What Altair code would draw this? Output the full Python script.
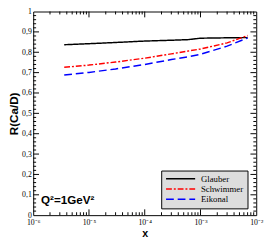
import altair as alt
import pandas as pd

# ---- data ----
x_vals = [3.6e-6, 1e-5, 3e-5, 1e-4, 3e-4, 6e-4, 1e-3, 3e-3, 7e-3]
glauber = [0.837, 0.842, 0.848, 0.855, 0.859, 0.862, 0.869, 0.871, 0.872]
schwimmer = [0.726, 0.737, 0.752, 0.771, 0.792, 0.806, 0.816, 0.846, 0.882]
eikonal = [0.688, 0.701, 0.718, 0.740, 0.764, 0.778, 0.790, 0.830, 0.870]
series = ["Glauber", "Schwimmer", "Eikonal"]
colors = ["#000000", "#ff0000", "#0000ff"]
dashes = [[1, 0], [6, 2, 2, 2], [8, 4]]

y_major = [round(i / 10, 1) for i in range(1, 10)]
y_minor = [round(i * 0.02, 2) for i in range(1, 50) if i % 5 != 0]
x_major = [1e-5, 1e-4, 1e-3]
x_minor = [k * 10.0 ** d for d in range(-6, -2) for k in range(2, 10)]
y_label_vals = [round(i / 10, 1) for i in range(0, 11)]
x_label_vals = [1e-6, 1e-5, 1e-4, 1e-3, 1e-2]

W, H = 230, 210

rows = []
for name, vals in zip(series, [glauber, schwimmer, eikonal]):
    for xv, rv in zip(x_vals, vals):
        rows.append({"x": xv, "R": rv, "series": name})
df = pd.DataFrame(rows)

xs = alt.Scale(type="log", domain=[1e-6, 1e-2], nice=False)
ys = alt.Scale(domain=[0, 1], nice=False, zero=False)

x_axis = alt.Axis(
    values=x_label_vals, ticks=False, domain=False, grid=False,
    labelExpr="'10' + (datum.value < 5e-6 ? '⁻⁶' : datum.value < 5e-5 ? '⁻⁵' : datum.value < 5e-4 ? '⁻⁴' : datum.value < 5e-3 ? '⁻³' : '⁻²')",
    labelFont="Liberation Serif", labelFontSize=8, labelColor="black",
    labelPadding=4, labelFlush=False, labelOverlap=False,
    title="x", titleFont="Liberation Sans", titleFontSize=11, titleFontWeight="bold",
    titleColor="black", titlePadding=1,
)
y_axis = alt.Axis(
    values=y_label_vals, ticks=False, domain=False, grid=False,
    labelExpr="datum.value == 0 ? '0' : datum.value == 1 ? '1' : replace(format(datum.value, '.1f'), '.', ',')",
    labelFont="Liberation Serif", labelFontSize=8, labelColor="black",
    labelPadding=2, labelFlush=False, labelOverlap=False,
    title="R(Ca/D)", titleFont="Liberation Sans", titleFontSize=12, titleFontWeight="bold",
    titleColor="black", titlePadding=1,
)
X = alt.X("x:Q", scale=xs, axis=x_axis, title="x")
Y = alt.Y("R:Q", scale=ys, axis=y_axis, title="R(Ca/D)")

leg = alt.Legend(
    title=None, orient="none", legendX=132, legendY=164,
    fillColor="#dddddd", strokeColor="black", padding=4, cornerRadius=0,
    symbolType="stroke", symbolSize=900, symbolStrokeWidth=1.5,
    clipHeight=9, rowPadding=0.5, labelOffset=5,
    labelFont="Liberation Serif", labelFontSize=9, labelColor="black",
)

lines = alt.Chart(df).mark_line(strokeWidth=1.5).encode(
    x=X, y=Y,
    color=alt.Color("series:N", scale=alt.Scale(domain=series, range=colors), legend=leg, title=None),
    strokeDash=alt.StrokeDash("series:N", scale=alt.Scale(domain=series, range=dashes), legend=leg, title=None),
)


def ytick(vals, L, left):
    d = pd.DataFrame({"R": vals})
    return alt.Chart(d).mark_rule(color="black", strokeWidth=1).encode(
        y=Y,
        x=alt.value(0 if left else W),
        x2=alt.value(L if left else W - L),
    )


def xtick(vals, L, bottom):
    d = pd.DataFrame({"x": vals})
    return alt.Chart(d).mark_rule(color="black", strokeWidth=1).encode(
        x=X,
        y=alt.value(H if bottom else 0),
        y2=alt.value(H - L if bottom else L),
    )


ticks = [
    ytick(y_major, 6, True), ytick(y_minor, 3, True),
    ytick(y_major, 6, False), ytick(y_minor, 3, False),
    xtick(x_major, 6, True), xtick(x_minor, 3, True),
    xtick(x_major, 6, False), xtick(x_minor, 3, False),
]

qdf = pd.DataFrame({"x": [1.38e-6], "R": [0.057], "t": ["Q²=1GeV²"]})
qtext = alt.Chart(qdf).mark_text(
    align="left", baseline="alphabetic", font="Liberation Sans",
    fontSize=12, fontWeight="bold", color="black",
).encode(x=X, y=Y, text="t:N")

chart = alt.layer(lines, *ticks, qtext).properties(
    width=W, height=H,
    autosize=alt.AutoSizeParams(type="none"),
    padding={"left": 26, "top": 0, "right": 8, "bottom": 23},
    background="white",
).configure_view(
    stroke="black", strokeWidth=1, fill="white"
)

chart.save("out.html", embed_options={"renderer": "svg", "actions": False})
